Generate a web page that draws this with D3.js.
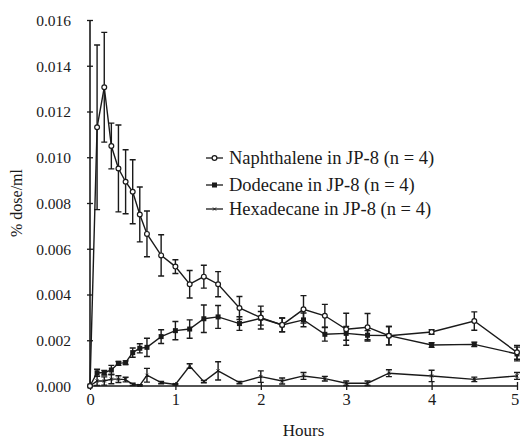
<!DOCTYPE html>
<html><head><meta charset="utf-8">
<script src="https://cdn.jsdelivr.net/npm/d3@7/dist/d3.min.js"></script>
<style>body{margin:0;background:#fff}svg{display:block}text{font-family:"Liberation Serif","DejaVu Serif",serif;fill:#1a1a1a}</style>
</head><body><svg id="c" width="520" height="439"></svg>
<script>
const times = [0, 0.083, 0.167, 0.25, 0.333, 0.417, 0.5, 0.583, 0.667, 0.833, 1, 1.167, 1.333, 1.5, 1.75, 2, 2.25, 2.5, 2.75, 3, 3.25, 3.5, 4, 4.5, 5];
const naphthalene = [0, 0.01131, 0.01306, 0.01049, 0.00951, 0.00893, 0.00849, 0.0075, 0.00665, 0.00571, 0.00522, 0.00445, 0.00478, 0.00445, 0.00341, 0.00299, 0.00267, 0.00335, 0.00307, 0.00248, 0.00257, 0.0022, 0.00236, 0.00284, 0.00147];
const naphthaleneErr = [0, 0.0036, 0.0024, 0.001, 0.0019, 0.0014, 0.0014, 0.0012, 0.001, 0.0009, 0.0003, 0.0006, 0.0005, 0.00055, 0.0005, 0.0005, 0.0003, 0.0006, 0.0005, 0.0007, 0.0006, 0.0004, 0.0001, 0.0004, 0.0003];
const dodecane = [0, 0.00058, 0.00058, 0.0007, 0.00099, 0.00102, 0.00146, 0.00165, 0.00169, 0.00216, 0.00242, 0.00249, 0.00294, 0.00302, 0.00273, 0.00296, 0.00267, 0.00289, 0.00226, 0.0023, 0.00222, 0.0022, 0.00179, 0.00182, 0.0014];
const dodecaneErr = [0, 0.00015, 0.0001, 0.0002, 0.00008, 0.00008, 0.0002, 0.0002, 0.0004, 0.0003, 0.0004, 0.0004, 0.0006, 0.0005, 0.0003, 0.0003, 0.0003, 0.0003, 0.0003, 0.0003, 0.0002, 0.0004, 0.0001, 0.0001, 0.0003];
const hexadecane = [0, 0.00022, 0.00022, 0.0003, 0.0003, 0.00028, 0.00007, 0.00003, 0.00047, 0.00015, 0.00007, 0.00087, 0.00019, 0.00066, 0.00015, 0.00041, 0.00022, 0.00044, 0.00032, 0.00012, 0.00012, 0.00056, 0.00044, 0.00029, 0.00044];
const hexadecaneErr = [0, 0.0002, 0.00018, 0.0002, 0.00015, 0.0001, 0.00005, 0.00003, 0.0003, 0.00005, 0.00003, 0.0001, 0.00005, 0.0004, 0.00005, 0.00025, 0.00013, 0.00015, 0.0001, 0.0001, 0.0001, 0.00015, 0.00025, 0.0001, 0.00015];
const seriesNames = ["Naphthalene in JP-8 (n = 4)", "Dodecane in JP-8 (n = 4)", "Hexadecane in JP-8 (n = 4)"];
const xTicks = [0, 1, 2, 3, 4, 5];
const yTicks = [0, 0.002, 0.004, 0.006, 0.008, 0.010, 0.012, 0.014, 0.016];

const svg = d3.select("#c");
const ink = "#1a1a1a";
const x = d3.scaleLinear().domain([0, 5]).range([90, 517]);
const y = d3.scaleLinear().domain([0, 0.016]).range([386, 20]);

// axes
const gx = svg.append("g").attr("transform", "translate(0,386)")
  .call(d3.axisBottom(x).tickValues(xTicks).tickFormat(d3.format("d")).tickSize(4).tickPadding(3));
gx.selectAll(".tick line").attr("y1", -4).attr("y2", 4);
const gy = svg.append("g").attr("transform", "translate(90,0)")
  .call(d3.axisLeft(y).tickValues(yTicks).tickFormat(d3.format(".3f")).tickSize(3).tickPadding(16));
gy.selectAll(".tick line").attr("x1", -3).attr("x2", 3);
[gx, gy].forEach(g => {
  g.select(".domain").attr("stroke", ink).attr("stroke-width", 1.6);
  g.selectAll(".tick line").attr("stroke", ink).attr("stroke-width", 1.3);
  g.selectAll("text").attr("font-size", 15.5).attr("font-family", "Liberation Serif").attr("fill", ink);
});
gx.selectAll("text").attr("font-size", 16.5);
gx.selectAll(".tick").filter(d => d === 5).select("text").attr("dx", -2.5);
gx.select(".domain").attr("d", `M${x(0)},0H${x(5)}`);
gy.select(".domain").attr("d", `M0,${y(0)}V${y(0.016)}`);
gy.selectAll("text").attr("dy", "0.35em");

svg.append("text").attr("x", x(2.5)).attr("y", 436).attr("text-anchor", "middle").attr("font-size", 17).text("Hours");
svg.append("text").attr("transform", `translate(22,${(y(0) + y(0.016)) / 2}) rotate(-90)`)
  .attr("text-anchor", "middle").attr("font-size", 16).text("% dose/ml");

const series = [
  {vals: naphthalene, err: naphthaleneErr, marker: "circle"},
  {vals: dodecane, err: dodecaneErr, marker: "square"},
  {vals: hexadecane, err: hexadecaneErr, marker: "tick"}
];

function drawMarker(g, type, cx, cy) {
  if (type === "circle") {
    g.append("circle").attr("cx", cx).attr("cy", cy).attr("r", 2.4)
      .attr("fill", "#fff").attr("stroke", ink).attr("stroke-width", 1.2);
  } else if (type === "square") {
    g.append("rect").attr("x", cx - 2.5).attr("y", cy - 2.5).attr("width", 5).attr("height", 5).attr("fill", ink);
  } else {
    g.append("path").attr("d", `M${cx - 1.5},${cy - 1.5}L${cx + 1.5},${cy + 1.5}M${cx - 1.5},${cy + 1.5}L${cx + 1.5},${cy - 1.5}`)
      .attr("stroke", ink).attr("stroke-width", 1);
  }
}

const line = d3.line().x(d => x(d[0])).y(d => y(d[1]));
series.slice().reverse().forEach(s => {
  const g = svg.append("g");
  const pts = times.map((t, i) => [t, s.vals[i], s.err[i]]);
  pts.forEach(p => {
    if (p[2] <= 0) return;
    const x0 = x(p[0]), yt = y(p[1] + p[2]), yb = y(Math.max(0, p[1] - p[2]));
    g.append("path").attr("d", `M${x0},${yt}V${yb}M${x0 - 3},${yt}H${x0 + 3}M${x0 - 3},${yb}H${x0 + 3}`)
      .attr("stroke", ink).attr("stroke-width", 1.4).attr("fill", "none");
  });
  g.append("path").datum(pts).attr("d", line).attr("fill", "none").attr("stroke", ink).attr("stroke-width", 1.4);
  pts.forEach(p => drawMarker(g, s.marker, x(p[0]), y(p[1])));
});

// legend
const legY = [158, 185, 209];
seriesNames.forEach((name, i) => {
  const g = svg.append("g");
  g.append("line").attr("x1", 206).attr("x2", 223).attr("y1", legY[i]).attr("y2", legY[i]).attr("stroke", ink).attr("stroke-width", 1.3);
  drawMarker(g, series[i].marker, 214.5, legY[i]);
  g.append("text").attr("x", 229).attr("y", legY[i]).attr("dy", "0.35em").attr("font-size", 18.5).text(name);
});
</script></body></html>
